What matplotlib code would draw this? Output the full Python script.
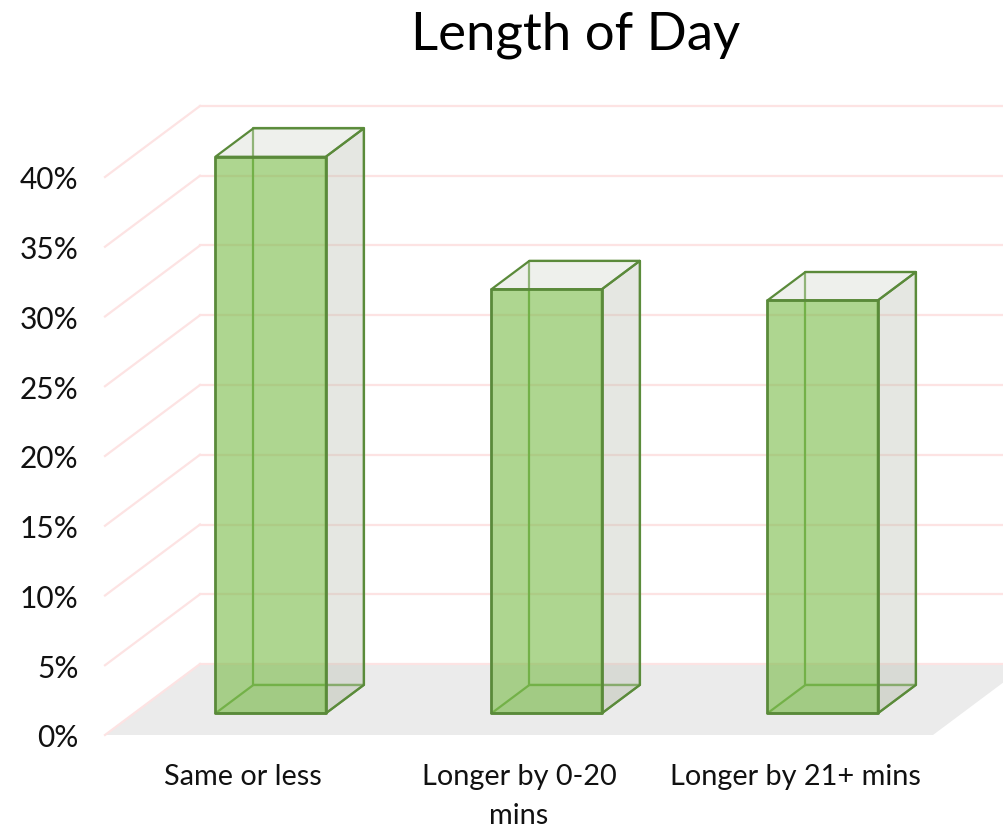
import matplotlib
matplotlib.use("Agg")
import matplotlib.pyplot as plt
from matplotlib.patches import Polygon

categories = ['Same or less', 'Longer by 0-20\nmins', 'Longer by 21+ mins']
values = [39.9, 30.4, 29.6]
grid_vals = [0, 5, 10, 15, 20, 25, 30, 35, 40]

plt.rcParams['font.family'] = ['Lato', 'DejaVu Sans']

W, H = 1004, 828
fig = plt.figure(figsize=(W / 100, H / 100), dpi=100)
# front plane of the 3d box, in pixels
ax = fig.add_axes([105 / W, 1 - 736 / H, 828 / W, 558 / H])
ax.set_xlim(0, 3)
ax.set_ylim(0, 40)

# one full unit of depth in data units
DX = 95 / 276
DY = 71 / (558 / 40)


def pt(x, y, d):
    return (x + d * DX, y + d * DY)


def face(p, fc, ec, lw=1.6, z=3):
    ax.add_patch(Polygon(p, closed=True, fc=fc, ec=ec, lw=lw, zorder=z, clip_on=False, joinstyle='round'))


# floor
face([pt(0, 0, 0), pt(3, 0, 0), pt(3, 0, 1), pt(0, 0, 1)], '#ebebeb', 'none', 0, 1)

# walls
for g in grid_vals:
    a = pt(0, g, 0)
    b = pt(0, g, 1)
    c = pt(3, g, 1)
    ax.plot([a[0], b[0]], [a[1], b[1]], color='#fde3e3', lw=1.6, zorder=2, clip_on=False)
    ax.plot([b[0], c[0]], [b[1], c[1]], color='#fde3e3', lw=1.6, zorder=2, clip_on=False)

edge = '#5a8a3a'
inner = '#6ea34c'
bw = 0.4
d0 = 0.305
d1 = 0.705
for i, v in enumerate(values):
    x0 = i + 0.495 - bw / 2
    x1 = i + 0.495 + bw / 2
    # back and bottom faces first so the lines show through the front
    face([pt(x0, 0, d1), pt(x1, 0, d1), pt(x1, v, d1), pt(x0, v, d1)], 'none', inner, z=3)
    face([pt(x0, 0, d0), pt(x1, 0, d0), pt(x1, 0, d1), pt(x0, 0, d1)], (0.72, 0.74, 0.67, 0.14), inner, z=3)
    face([pt(x1, 0, d0), pt(x1, 0, d1), pt(x1, v, d1), pt(x1, v, d0)], (183 / 255, 188 / 255, 172 / 255, 0.35), edge, z=4)
    face([pt(x0, v, d0), pt(x1, v, d0), pt(x1, v, d1), pt(x0, v, d1)], (208 / 255, 214 / 255, 203 / 255, 0.35), edge, z=4)
    face([pt(x0, 0, d0), pt(x1, 0, d0), pt(x1, v, d0), pt(x0, v, d0)], (120 / 255, 187 / 255, 70 / 255, 0.6), edge, lw=2, z=5)

for s in ax.spines.values():
    s.set_visible(False)
ax.patch.set_visible(False)
ax.set_yticks(grid_vals)
ax.set_yticklabels([str(g) + '%' for g in grid_vals], fontsize=21.5, color='#111111')
ax.set_xticks([0.5, 1.5, 2.5])
ax.set_xticklabels(categories, fontsize=20.8, color='#111111', linespacing=1.65)
ax.tick_params(axis='both', length=0)
ax.tick_params(axis='y', pad=19)
ax.tick_params(axis='x', pad=20)

fig.text(576 / W, 1 - 35 / H, 'Length of Day', fontsize=38, ha='center', va='center', color='#000000')

fig.savefig('out.png', dpi=100)
